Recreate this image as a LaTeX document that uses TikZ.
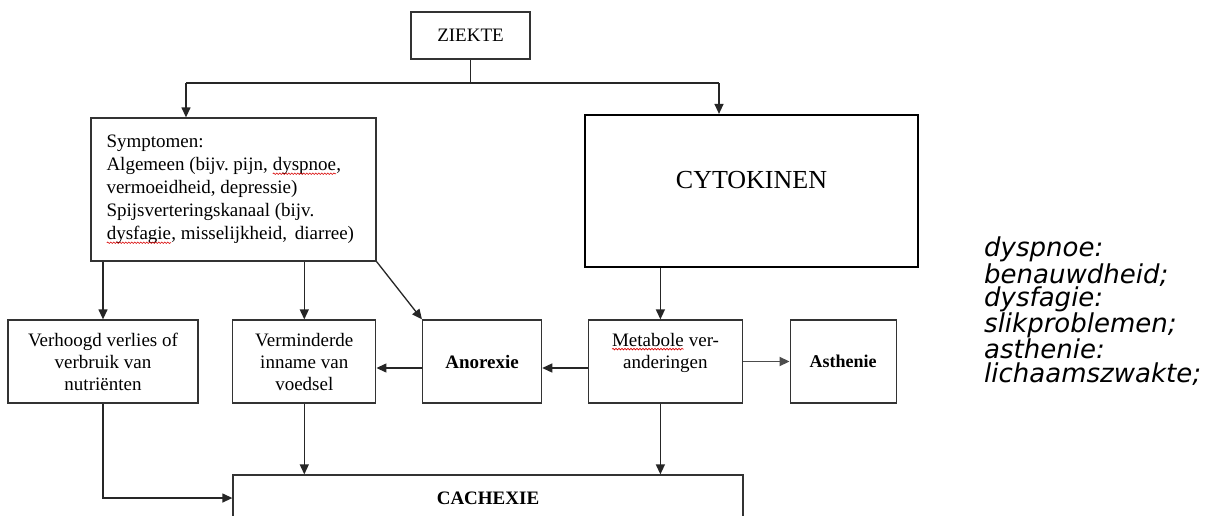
\documentclass[tikz,border=0pt]{standalone}
\usepackage{fontspec}
\setmainfont{Liberation Serif}
\newfontfamily\notefont{DejaVu Sans Oblique}
\usetikzlibrary{positioning, arrows.meta, decorations.pathmorphing}
\frenchspacing

\tikzstyle{box} = [
    rectangle,
    minimum height=83pt,
    inner sep=0pt,
    align=center,
    draw=black!80,
    line width=1.3pt,
    font=\fontsize{19}{22}\selectfont
]
\tikzstyle{bigbox} = [
    rectangle,
    minimum width=333pt,
    minimum height=152pt,
    inner sep=0pt,
    align=center,
    draw=black,
    line width=2.2pt,
    font=\fontsize{26}{22}\selectfont
]
\tikzstyle{arrow} = [line width=1.3pt, draw=black!85, -{Triangle[length=10pt,width=9pt]}]
\tikzstyle{line} = [line width=1.3pt, draw=black!85]

% red wavy spell-check underline
\newcommand{\spellmark}[1]{\tikz[baseline=(sw.base)]{%
    \node[inner sep=0pt, outer sep=0pt, text width=, align=center,
        minimum width=0pt, minimum height=0pt, draw=none] (sw) {#1};
    \draw[red!85!black, line width=0.6pt, decorate,
        decoration={snake, amplitude=0.8pt, segment length=3pt}]
        ([yshift=-3pt]sw.base west) -- ([yshift=-3pt]sw.base east);}}

\begin{document}
\begin{tikzpicture}[x=1pt, y=-1pt]

\clip (0,0) rectangle (1211,515);
\fill[white] (0,0) rectangle (1211,515);

\node (ziekte) [box, minimum width=119pt, minimum height=47pt] at (470.5,35.5)
{ZIEKTE};

\node (symptomen) [box, minimum width=285pt, minimum height=143pt,
    text width=254pt, align=flush left, font=\fontsize{19}{23}\selectfont]
    at (233.5,189.5)
{Symptomen:\\
Algemeen (bijv. pijn, \spellmark{dyspnoe},\\
vermoeidheid, depressie)\\
Spijsverteringskanaal (bijv.\\
\spellmark{dysfagie}, misselijkheid,\, diarree)};

\node (cyto) [bigbox] at (751.5,191)
{CYTOKINEN\\\mbox{}};

\node (verhoogd) [box, minimum width=190pt] at (103,361.5)
{Verhoogd verlies of\\verbruik van\\nutriënten};

\node (verminderde) [box, minimum width=143pt, right=33.5pt of verhoogd]
{Verminderde\\inname van\\voedsel};

\node (anorexie) [box, minimum width=119pt, right=45.5pt of verminderde]
{\textbf{Anorexie}};

\node (metabole) [box, minimum width=154pt, right=45.5pt of anorexie]
{\spellmark{Metabole} ver-\\anderingen\\\mbox{}};

\node (asthenie) [box, minimum width=106pt, right=46.5pt of metabole,
    font=\fontsize{18}{22}\selectfont]
{\textbf{Asthenie}};

\node (cachexie) [box, minimum width=510pt, minimum height=46pt] at (488,498)
{\textbf{CACHEXIE}};

\node (legend) [anchor=north west, inner sep=0pt, align=left,
    font=\notefont\fontsize{26}{23.5}\selectfont] at (984,237)
{dyspnoe:\\benauwdheid;\\dysfagie:\\slikproblemen;\\asthenie:\\lichaamszwakte;};

\coordinate (split) at (470.5,83);
\coordinate (leftdrop) at (186,83);
\coordinate (rightdrop) at (719,83);

\draw [line] (ziekte) -- (split);
\draw [line] (leftdrop) -- (rightdrop);
\draw [arrow] (leftdrop) -- (leftdrop |- symptomen.north);
\draw [arrow] (rightdrop) -- (rightdrop |- cyto.north);

\draw [arrow] (symptomen.south -| verhoogd) -- (verhoogd);
\draw [arrow] (symptomen.south -| verminderde) -- (verminderde);
\draw [arrow] (symptomen.south east) -- (anorexie.north west);
\draw [arrow] ([xshift=-5pt]cyto.south -| metabole) -- ([xshift=-5pt]metabole.north);

\draw [arrow] ([yshift=-6.5pt]metabole.west) -- ([yshift=-6.5pt]anorexie.east);
\draw [arrow] ([yshift=-6.5pt]anorexie.west) -- ([yshift=-6.5pt]verminderde.east);
\draw [arrow, line width=1.8pt, draw=black!70] (metabole) -- (asthenie);

\draw [arrow] (verminderde) -- (verminderde |- cachexie.north);
\draw [arrow] ([xshift=-5pt]metabole.south) -- ([xshift=-5pt]metabole.south |- cachexie.north);
\draw [arrow] (verhoogd) |- (cachexie);

\end{tikzpicture}
\end{document}
